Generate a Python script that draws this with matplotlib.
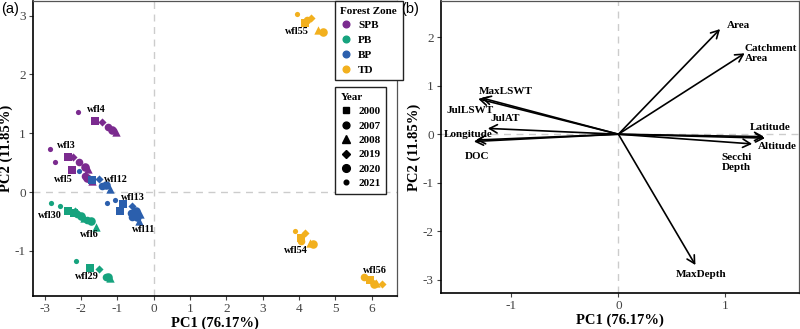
import matplotlib.pyplot as plt

plt.rcParams['font.family'] = ['Liberation Serif', 'DejaVu Serif']

# ---- panel (a): PCA scores ----
years = [2000, 2007, 2008, 2019, 2020, 2021]
year_markers = ['s', 'o', '^', 'D', 'o', 'o']
year_sizes = [30, 30, 36, 17, 38, 14]

zones = ['SPB', 'PB', 'BP', 'TD']
zone_colors = {'SPB': '#7b2b8f', 'PB': '#16a37e', 'BP': '#2b5fad', 'TD': '#f2b01e'}

lakes = ['wfl4', 'wfl3', 'wfl5', 'wfl12', 'wfl13', 'wfl11',
         'wfl30', 'wfl6', 'wfl29', 'wfl55', 'wfl54', 'wfl56']
lake_zone = ['SPB', 'SPB', 'SPB', 'BP', 'BP', 'BP',
             'PB', 'PB', 'PB', 'TD', 'TD', 'TD']

# scores per lake, ordered as in `years`
pc1 = {
    'wfl4':  [-1.63, -1.26, -1.05, -1.42, -1.15, -2.09],
    'wfl3':  [-2.37, -2.05, -1.82, -2.21, -1.88, -2.87],
    'wfl5':  [-2.25, -1.88, -1.70, -1.78, -1.85, -2.71],
    'wfl12': [-1.69, -1.42, -1.21, -1.51, -1.31, -2.05],
    'wfl13': [-0.85, -0.62, -0.38, -0.59, -0.48, -1.08],
    'wfl11': [-0.92, -0.60, -0.40, -0.55, -0.45, -1.29],
    'wfl30': [-2.36, -2.12, -1.92, -2.16, -2.00, -2.84],
    'wfl6':  [-2.20, -1.85, -1.58, -1.98, -1.74, -2.58],
    'wfl29': [-1.75, -1.32, -1.21, -1.52, -1.27, -2.15],
    'wfl55': [4.16, 4.21, 4.51, 4.32, 4.65, 3.93],
    'wfl54': [4.06, 4.06, 4.30, 4.16, 4.38, 3.89],
    'wfl56': [5.96, 5.79, 6.12, 6.28, 6.07, 5.85],
}
pc2 = {
    'wfl4':  [1.21, 1.11, 1.02, 1.19, 1.06, 1.36],
    'wfl3':  [0.60, 0.51, 0.40, 0.60, 0.43, 0.74],
    'wfl5':  [0.375, 0.28, 0.19, 0.21, 0.24, 0.51],
    'wfl12': [0.20, 0.11, 0.05, 0.22, 0.12, 0.35],
    'wfl13': [-0.20, -0.35, -0.38, -0.23, -0.33, -0.13],
    'wfl11': [-0.32, -0.43, -0.49, -0.36, -0.42, -0.18],
    'wfl30': [-0.32, -0.37, -0.44, -0.33, -0.40, -0.18],
    'wfl6':  [-0.35, -0.48, -0.59, -0.43, -0.50, -0.24],
    'wfl29': [-1.29, -1.44, -1.46, -1.31, -1.45, -1.18],
    'wfl55': [2.88, 2.92, 2.76, 2.96, 2.72, 3.03],
    'wfl54': [-0.79, -0.83, -0.87, -0.70, -0.88, -0.66],
    'wfl56': [-1.50, -1.45, -1.55, -1.57, -1.56, -1.46],
}
lake_label_xy = {
    'wfl4': (-1.58, 1.40), 'wfl3': (-2.41, 0.80), 'wfl5': (-2.48, 0.22),
    'wfl12': (-1.03, 0.22), 'wfl13': (-0.57, -0.09), 'wfl11': (-0.28, -0.63),
    'wfl30': (-2.87, -0.40), 'wfl6': (-1.78, -0.72), 'wfl29': (-1.84, -1.44),
    'wfl55': (3.95, 2.73), 'wfl54': (3.92, -1.00), 'wfl56': (6.09, -1.33),
}

# ---- panel (b): loadings ----
variables = ['Area', 'Catchment\nArea', 'Latitude', 'Altitude', 'Secchi\nDepth',
             'MaxDepth', 'MaxLSWT', 'JulLSWT', 'JulAT', 'Longitude', 'DOC']
load1 = [0.95, 1.18, 1.36, 1.37, 1.25, 0.72, -1.31, -1.28, -1.22, -1.33, -1.35]
load2 = [2.17, 1.67, -0.05, -0.08, -0.20, -2.70, 0.73, 0.75, 0.12, -0.12, -0.15]
var_label_xy = [(1.12, 2.24), (1.18, 1.66), (1.42, 0.13), (1.49, -0.26), (1.10, -0.59),
                (0.77, -2.89), (-1.05, 0.89), (-1.39, 0.48), (-1.06, 0.32),
                (-1.40, 0.00), (-1.32, -0.46)]
var_label_ha = ['center', 'left', 'center', 'center', 'center',
                'center', 'center', 'center', 'center', 'center', 'center']

fig = plt.figure(figsize=(8, 3.29), dpi=100)
ax1 = fig.add_axes([0.041, 0.100, 0.455, 0.897])
ax2 = fig.add_axes([0.551, 0.109, 0.448, 0.888])


def style_axes(ax):
    for side in ['top', 'right']:
        ax.spines[side].set_color('#555555')
        ax.spines[side].set_linewidth(0.9)
    for side in ['left', 'bottom']:
        ax.spines[side].set_color('black')
        ax.spines[side].set_linewidth(1.2)
    ax.tick_params(colors='#444444', labelsize=9.5, length=3, width=0.8, pad=2)
    ax.axhline(0, color='#cccccc', ls=(0, (5, 4)), lw=1.0, zorder=0)
    ax.axvline(0, color='#cccccc', ls=(0, (5, 4)), lw=1.0, zorder=0)
    ax.set_xlabel('PC1 (76.17%)', fontsize=10.5, fontweight='bold', labelpad=1)
    ax.set_ylabel('PC2 (11.85%)', fontsize=10.5, fontweight='bold', labelpad=1)


# panel (a)
style_axes(ax1)
for lake, zone in zip(lakes, lake_zone):
    for i, yr in enumerate(years):
        ax1.scatter(pc1[lake][i], pc2[lake][i], marker=year_markers[i],
                    s=year_sizes[i], color=zone_colors[zone], linewidths=0, zorder=3)
    lx, ly = lake_label_xy[lake]
    ax1.text(lx, ly, lake, fontsize=7.4, fontweight='bold', ha='center', va='center')

ax1.set_xlim(-3.33, 6.69)
ax1.set_ylim(-1.77, 3.25)
ax1.set_xticks(range(-3, 7))
ax1.set_yticks([-1, 0, 1, 2, 3])
ax1.set_xticklabels([str(v) for v in range(-3, 7)])
ax1.set_yticklabels(['-1', '0', '1', '2', '3'])

leg_font = {'weight': 'bold', 'size': 8}
zone_handles = [plt.Line2D([], [], marker='o', ls='', color=zone_colors[z], markersize=4.8)
                for z in zones]
leg1 = ax1.legend(zone_handles, zones, title='Forest Zone', loc='upper left',
                  bbox_to_anchor=(0.83, 1.0), borderaxespad=0, prop=leg_font,
                  title_fontproperties=leg_font, alignment='left',
                  handlelength=1.0, handletextpad=0.6, labelspacing=0.45,
                  borderpad=0.5, fancybox=False, edgecolor='#222222', framealpha=1)
leg1.get_frame().set_linewidth(1.0)
ax1.add_artist(leg1)

year_handles = [plt.Line2D([], [], marker=m, ls='', color='black',
                           markersize=(s ** 0.5) * 0.9)
                for m, s in zip(year_markers, year_sizes)]
leg2 = ax1.legend(year_handles, [str(y) for y in years], title='Year', loc='upper left',
                  bbox_to_anchor=(0.83, 0.708), borderaxespad=0, prop=leg_font,
                  title_fontproperties=leg_font, alignment='left',
                  handlelength=1.0, handletextpad=0.6, labelspacing=0.42,
                  borderpad=0.5, fancybox=False, edgecolor='#222222', framealpha=1)
leg2.get_frame().set_linewidth(1.0)

# panel (b)
style_axes(ax2)
for x, y in zip(load1, load2):
    ax2.annotate('', xy=(x, y), xytext=(0, 0),
                 arrowprops=dict(arrowstyle='->,head_length=0.55,head_width=0.3',
                                 color='black', lw=1.2, shrinkA=0, shrinkB=0))
for name, (lx, ly), ha in zip(variables, var_label_xy, var_label_ha):
    ax2.text(lx, ly, name, fontsize=8, fontweight='bold', ha=ha, va='center',
             linespacing=1.15)

ax2.set_xlim(-1.66, 1.69)
ax2.set_ylim(-3.28, 2.75)
ax2.set_xticks([-1, 0, 1])
ax2.set_xticklabels(['-1', '0', '1'])
ax2.set_yticks([-3, -2, -1, 0, 1, 2])
ax2.set_yticklabels(['-3', '-2', '-1', '0', '1', '2'])

fig.text(0.001, 0.995, '(a)', fontsize=10.5, family='Liberation Sans', va='top')
fig.text(0.501, 0.995, '(b)', fontsize=10.5, family='Liberation Sans', va='top')

fig.savefig('out.png', dpi=100)
